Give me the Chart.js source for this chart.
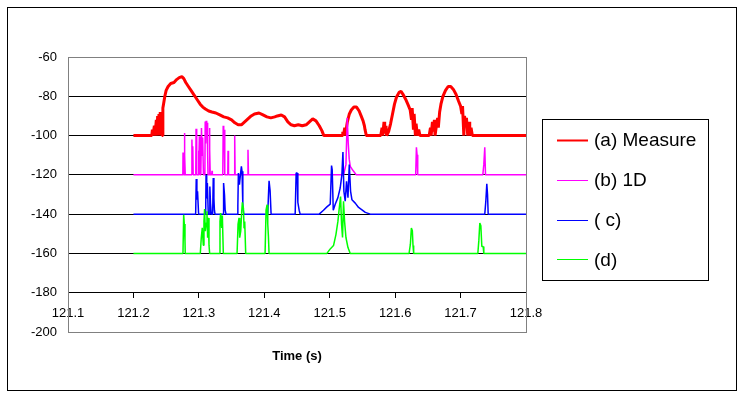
<!DOCTYPE html>
<html>
<head>
<meta charset="utf-8">
<script src="https://cdn.jsdelivr.net/npm/chart.js@4.4.1/dist/chart.umd.min.js"></script>
<style>
  html, body { margin: 0; padding: 0; background: #fff; }
  #wrap { width: 745px; height: 398px; }
</style>
</head>
<body>
<div id="wrap"><canvas id="myChart" width="745" height="398"></canvas></div>
<script>
// Datos (tiempo en s, nivel en dB)
const seriesLabels = ["(a) Measure", "(b) 1D", "( c)", "(d)"];
const seriesColors = ["#ff0000", "#ff00ff", "#0000ff", "#00ff00"];

const xTicks = [121.1, 121.2, 121.3, 121.4, 121.5, 121.6, 121.7, 121.8];
const yTicks = [-200, -180, -160, -140, -120, -100, -80, -60];

const measureTime = [
  121.2, 121.228, 121.229, 121.230, 121.232, 121.233, 121.235, 121.236, 121.237, 121.238,
  121.239, 121.240, 121.241, 121.242, 121.243, 121.244, 121.245, 121.246, 121.248, 121.250,
  121.253, 121.257, 121.262, 121.266, 121.270, 121.274, 121.277, 121.280, 121.284, 121.288,
  121.292, 121.295, 121.298, 121.302, 121.306, 121.310, 121.315, 121.320, 121.326, 121.332,
  121.338, 121.344, 121.350, 121.355, 121.360, 121.365, 121.370, 121.375, 121.380, 121.385,
  121.392, 121.398, 121.404, 121.410, 121.416, 121.420, 121.426, 121.431, 121.436, 121.441,
  121.446, 121.452, 121.458, 121.464, 121.469, 121.474, 121.479, 121.484, 121.488, 121.491,
  121.519, 121.520, 121.521, 121.523, 121.524, 121.526, 121.527, 121.530, 121.533, 121.537,
  121.541, 121.545, 121.548, 121.551, 121.553, 121.554, 121.556, 121.578, 121.580, 121.581,
  121.583, 121.584, 121.586, 121.587, 121.590, 121.593, 121.596, 121.599, 121.602, 121.606,
  121.609, 121.612, 121.616, 121.620, 121.623, 121.625, 121.626, 121.628, 121.629, 121.631,
  121.632, 121.634, 121.636, 121.638, 121.652, 121.654, 121.655, 121.657, 121.658, 121.660,
  121.661, 121.663, 121.665, 121.666, 121.668, 121.670, 121.673, 121.677, 121.681, 121.685,
  121.689, 121.693, 121.697, 121.700, 121.702, 121.703, 121.705, 121.706, 121.708, 121.709,
  121.711, 121.713, 121.714, 121.716, 121.718, 121.8
];
const measureDb = [
  -100, -100, -97, -100, -95, -100, -92, -100, -90, -96,
  -89, -100, -88, -97, -88, -100, -86, -84, -80, -77,
  -75, -73.5, -73, -71.5, -70.5, -70, -71, -73, -75, -77,
  -79, -80.5, -82, -84, -85.5, -86.5, -87.5, -88, -88.5, -89.5,
  -90.5, -91, -92, -93.5, -94.5, -94.5, -93, -91.5, -90, -89,
  -88.5, -89.5, -90.5, -91, -90.5, -90, -89.5, -90.5, -93, -94.5,
  -95, -94.5, -95, -94.5, -93, -91.5, -92.5, -95, -97.5, -100,
  -100, -98, -100, -96, -100, -95, -93, -89, -87, -85.5,
  -85.5, -87.5, -90, -92.5, -95, -97, -100, -100, -96, -100,
  -93, -99, -95, -100, -98, -94, -89, -84, -80.5, -78,
  -77.5, -79, -81.5, -84.5, -87, -92, -86, -97, -89, -100,
  -94, -100, -97, -100, -100, -96, -100, -93, -98, -92,
  -100, -95, -91, -96, -88, -84, -80, -77, -75, -75,
  -76.5, -79, -82.5, -85, -89, -85, -100, -90, -95, -91,
  -100, -93, -100, -96, -100, -100
];

const oneDTime = [
  121.2, 121.2755, 121.2758, 121.2766, 121.2776, 121.2779, 121.2786, 121.2792, 121.2890, 121.2894,
  121.2901, 121.2907, 121.2913, 121.2953, 121.2957, 121.2964, 121.2970, 121.2991, 121.2995, 121.3001,
  121.3008, 121.3016, 121.3030, 121.3040, 121.3050, 121.3058, 121.3070, 121.3092, 121.3097, 121.3105,
  121.3112, 121.3120, 121.3127, 121.3134, 121.3140, 121.3158, 121.3162, 121.3168, 121.3174, 121.3196,
  121.3201, 121.3206, 121.3366, 121.3372, 121.3380, 121.3388, 121.3396, 121.3442, 121.3446, 121.3453,
  121.3543, 121.3548, 121.3554, 121.3746, 121.3751, 121.3758, 121.5211, 121.5230, 121.5248, 121.5268,
  121.5283, 121.5298, 121.5314, 121.5340, 121.5365, 121.5406, 121.6314, 121.6325, 121.6335, 121.6345,
  121.7340, 121.7355, 121.7370, 121.7381, 121.8
];
const oneDDb = [
  -120, -120, -108.6, -120, -120, -98.7, -110, -120, -120, -102,
  -115, -105.5, -120, -120, -96.5, -106, -120, -120, -107.7, -115,
  -100.4, -120, -120, -96.2, -110, -101, -120, -120, -92.8, -104,
  -92.5, -99, -93.5, -110, -120, -120, -96.2, -107, -120, -120,
  -117.9, -120, -120, -95, -104, -97, -120, -120, -107.7, -120,
  -120, -100, -120, -120, -107.2, -120, -120, -117.4, -114.8, -91,
  -103.8, -112, -115.7, -117, -118.2, -120, -120, -106, -109.7, -120,
  -120, -114.8, -106, -120, -120
];

const cTime = [
  121.2, 121.2951, 121.2960, 121.2970, 121.2980, 121.2996, 121.3104, 121.3110, 121.3120, 121.3130,
  121.3144, 121.3160, 121.3168, 121.3178, 121.3190, 121.3211, 121.3220, 121.3230, 121.3238, 121.3247,
  121.3369, 121.3378, 121.3392, 121.3402, 121.3415, 121.3588, 121.3596, 121.3604, 121.3620, 121.3635,
  121.3650, 121.3660, 121.3672, 121.3686, 121.4053, 121.4063, 121.4073, 121.4089, 121.4104, 121.4472,
  121.4487, 121.4503, 121.4513, 121.4533, 121.4548, 121.4839, 121.4905, 121.4957, 121.5008, 121.5028,
  121.5038, 121.5054, 121.5084, 121.5125, 121.5160, 121.5186, 121.5202, 121.5217, 121.5237, 121.5257,
  121.5279, 121.5299, 121.5319, 121.5340, 121.5390, 121.5441, 121.5493, 121.5544, 121.5620, 121.7370,
  121.7386, 121.7401, 121.7412, 121.7422, 121.8
];
const cDb = [
  -140, -140, -122.1, -132.7, -128.4, -140, -140, -119.9, -132, -124.2,
  -140, -140, -125.9, -134.5, -140, -140, -121.6, -132, -138, -140,
  -140, -124.2, -130.1, -138, -140, -140, -136, -119.1, -125, -120,
  -115.7, -118.2, -136, -140, -140, -131, -123, -128.1, -140, -140,
  -119.1, -119.1, -134, -138, -140, -140, -138, -136.3, -134.9, -115.3,
  -117.5, -138, -135, -131.6, -126.7, -120, -108.4, -128.4, -133.4, -123.3,
  -131.6, -114.8, -128.4, -132.7, -134.4, -136.6, -137.8, -139.1, -140, -140,
  -133.4, -124.5, -130, -140, -140
];

const dTime = [
  121.2, 121.2757, 121.2768, 121.2778, 121.2788, 121.2792, 121.3022, 121.3037, 121.3052, 121.3068,
  121.3078, 121.3088, 121.3098, 121.3114, 121.3124, 121.3134, 121.3144, 121.3155, 121.3165, 121.3313,
  121.3323, 121.3333, 121.3349, 121.3359, 121.3374, 121.3584, 121.3599, 121.3614, 121.3624, 121.3640,
  121.3655, 121.3665, 121.3681, 121.3691, 121.3701, 121.3716, 121.4012, 121.4027, 121.4043, 121.4053,
  121.4063, 121.4073, 121.4957, 121.5008, 121.5058, 121.5095, 121.5125, 121.5146, 121.5166, 121.5181,
  121.5196, 121.5211, 121.5227, 121.5248, 121.5279, 121.5314, 121.6213, 121.6233, 121.6248, 121.6263,
  121.6273, 121.6283, 121.7264, 121.7279, 121.7294, 121.7310, 121.7325, 121.7345, 121.7355, 121.8
];
const dDb = [
  -160, -160, -140.3, -145, -153.6, -160, -160, -152, -147, -155.8,
  -143.7, -137.4, -148.7, -144.5, -138.5, -152, -141.9, -155.8, -160, -160,
  -143.7, -139.4, -147, -140.7, -160, -160, -145.1, -141.9, -152, -148.7,
  -138.5, -134, -136.9, -147, -143.7, -160, -160, -138, -135.2, -145,
  -151.2, -160, -160, -157.7, -156, -150.4, -143.7, -136.9, -131, -145.1,
  -151.9, -133.4, -143.7, -151.9, -157, -160, -160, -155.3, -147.1, -148.5,
  -156, -160, -160, -153.5, -144.5, -145.9, -156.5, -156.5, -160, -160
];

const fuente = "'Liberation Sans', Arial, sans-serif";

function puntos(tiempos, valores) {
  return tiempos.map((t, i) => ({ x: t, y: valores[i] }));
}

// Marco exterior, borde gris del area y titulo del eje
const marcoPlugin = {
  id: "marco",
  beforeDraw(chart) {
    const ctx = chart.ctx;
    ctx.save();
    ctx.fillStyle = "#ffffff";
    ctx.fillRect(0, 0, chart.width, chart.height);
    ctx.strokeStyle = "#000000";
    ctx.lineWidth = 1;
    ctx.strokeRect(7.5, 7.5, 729, 383);
    ctx.restore();
  },
  beforeDatasetsDraw(chart) {
    const { ctx, chartArea } = chart;
    ctx.save();
    ctx.strokeStyle = "#808080";
    ctx.lineWidth = 1;
    ctx.strokeRect(Math.round(chartArea.left) + 0.5, Math.round(chartArea.top) + 0.5,
      Math.round(chartArea.right - chartArea.left), Math.round(chartArea.bottom - chartArea.top));
    ctx.restore();
  },
  afterDraw(chart) {
    const { ctx, chartArea } = chart;
    ctx.save();
    ctx.fillStyle = "#000000";
    ctx.font = "bold 13px " + fuente;
    ctx.textAlign = "center";
    ctx.textBaseline = "middle";
    ctx.fillText("Time (s)", (chartArea.left + chartArea.right) / 2, 356);

    // Leyenda con recuadro
    ctx.strokeStyle = "#000000";
    ctx.lineWidth = 1;
    ctx.strokeRect(542.5, 119.5, 166, 161);
    ctx.font = "19px " + fuente;
    ctx.textAlign = "left";
    chart.data.datasets.forEach((ds, i) => {
      const y = 140 + i * 39.8;
      ctx.strokeStyle = ds.borderColor;
      ctx.lineWidth = i === 0 ? 2 : 1;
      ctx.beginPath();
      ctx.moveTo(557, Math.round(y) + 0.5);
      ctx.lineTo(588, Math.round(y) + 0.5);
      ctx.stroke();
      ctx.fillStyle = "#000000";
      ctx.fillText(ds.label, 594, y + 1);
    });
    ctx.restore();
  }
};

const config = {
  type: "line",
  data: {
    datasets: [
      { label: seriesLabels[0], data: puntos(measureTime, measureDb), borderColor: seriesColors[0], borderWidth: 3, order: 4 },
      { label: seriesLabels[1], data: puntos(oneDTime, oneDDb), borderColor: seriesColors[1], borderWidth: 1.5, order: 3 },
      { label: seriesLabels[2], data: puntos(cTime, cDb), borderColor: seriesColors[2], borderWidth: 1.5, order: 2 },
      { label: seriesLabels[3], data: puntos(dTime, dDb), borderColor: seriesColors[3], borderWidth: 1.5, order: 1 }
    ]
  },
  options: {
    responsive: false,
    animation: false,
    layout: { padding: { left: 0, top: 57, right: 219, bottom: 66 } },
    elements: {
      point: { radius: 0 },
      line: { tension: 0, fill: false, borderJoinStyle: "bevel" }
    },
    plugins: {
      legend: { display: false },
      tooltip: { enabled: false }
    },
    scales: {
      x: {
        type: "linear",
        position: { y: -180 },
        min: 121.1,
        max: 121.8,
        afterBuildTicks: (s) => { s.ticks = xTicks.map((v) => ({ value: v })); },
        ticks: {
          color: "#000000",
          font: { family: fuente, size: 13 },
          padding: 8,
          maxRotation: 0,
          callback: (v) => Number(v).toFixed(1)
        },
        grid: { drawOnChartArea: false, drawTicks: true, tickLength: 5, color: "#000000" },
        border: { display: true, color: "#000000", width: 1 }
      },
      y: {
        type: "linear",
        min: -200,
        max: -60,
        afterBuildTicks: (s) => { s.ticks = yTicks.map((v) => ({ value: v })); },
        afterFit: (s) => { s.width = 68; },
        ticks: {
          color: "#000000",
          font: { family: fuente, size: 13 },
          padding: 11,
          callback: (v) => String(v)
        },
        grid: {
          drawTicks: false,
          color: (c) => (c.tick && (c.tick.value === -60 || c.tick.value === -200)) ? "rgba(0,0,0,0)" : "#000000"
        },
        border: { display: false }
      }
    }
  },
  plugins: [marcoPlugin]
};

const myChart = new Chart(document.getElementById("myChart"), config);
</script>
</body>
</html>
